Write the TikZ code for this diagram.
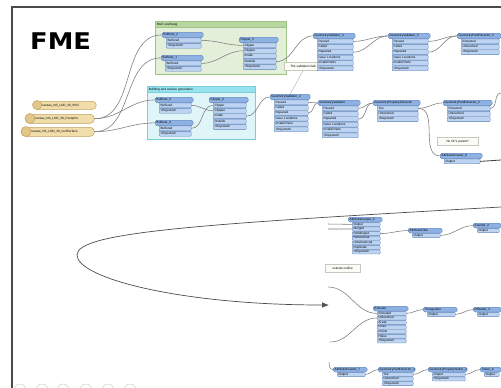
\documentclass[tikz,border=0pt]{standalone}
\usepackage{fontspec}
\setmainfont{Liberation Sans}
\newfontfamily\titlefont{DejaVu Sans}
\usetikzlibrary{arrows.meta}
\definecolor{hdrblue}{HTML}{8DB1E2}
\definecolor{portblue}{HTML}{BCD3F1}
\definecolor{bordblue}{HTML}{5B7FB4}
\definecolor{tanfill}{HTML}{F0DDA9}
\definecolor{tanbord}{HTML}{C3A35F}
\definecolor{tanicon}{HTML}{E2C78A}
\definecolor{gfill}{HTML}{E3EFD9}
\definecolor{gbar}{HTML}{B7D6A0}
\definecolor{gbord}{HTML}{9CC487}
\definecolor{cfill}{HTML}{E0F5F8}
\definecolor{cbar}{HTML}{96E2EE}
\definecolor{cbord}{HTML}{7ACDDA}
\definecolor{wiregray}{HTML}{7A7A7A}
\definecolor{framegray}{HTML}{4A4A4A}
\definecolor{cmtfill}{HTML}{FCFCF6}
\definecolor{cmtbord}{HTML}{C8C8BE}
\def\xfp{5.4}
\def\xfh{5.8}
\newcommand{\xform}[6]{%
  \pgfmathsetmacro{\xftw}{#4-3}%
  \pgfmathsetmacro{\xfptw}{#4-9}%
  \pgfmathsetmacro{\xfhh}{\xfh-0.4}%
  \pgfmathsetmacro{\xfph}{\xfp-0.6}%
  \node[hdr, text width=\xftw pt, minimum height=\xfhh pt, anchor=north west] (#1) at (#2,#3) {#5};
  \foreach \xfr [count=\xfi] in {#6} {%
    \node[port, text width=\xfptw pt, minimum height=\xfph pt, anchor=north west] (#1-\xfi) at ({#2+4},{#3+\xfh+(\xfi-1)*\xfp}) {\xfr};
  }%
}
\tikzset{
  tinyfont/.style={font=\fontsize{3.1}{3.4}\selectfont},
  hdr/.style={tinyfont, draw=bordblue, fill=hdrblue, line width=0.4pt, rounded corners=1.6pt, inner xsep=1.5pt, inner ysep=0.3pt, text height=2.2pt, text depth=0.6pt, align=left},
  port/.style={tinyfont, draw=bordblue, fill=portblue, line width=0.35pt, rounded corners=0.8pt, inner xsep=1.5pt, inner ysep=0.2pt, text height=2.2pt, text depth=0.6pt, align=left},
  reader/.style={tinyfont, draw=tanbord, fill=tanfill, line width=0.5pt, rounded corners=4pt, inner xsep=1pt, inner ysep=0pt, align=left, text height=2.2pt, text depth=0.6pt},
  readicon/.style={circle, draw=tanbord, fill=tanicon, line width=0.5pt, inner sep=0pt},
  grpbox/.style={line width=0.5pt, inner sep=0pt},
  grpbar/.style={tinyfont, inner xsep=1.5pt, inner ysep=0pt, align=left, text height=2.2pt, text depth=0.6pt},
  cmt/.style={tinyfont, draw=cmtbord, fill=cmtfill, line width=0.4pt, inner xsep=2pt, inner ysep=0pt, align=left, text height=2.2pt, text depth=0.6pt},
  wire/.style={draw=wiregray, line width=0.55pt},
  loopline/.style={draw=black!70, line width=0.7pt},
  dotc/.style={circle, draw=black!20, line width=0.5pt, minimum size=12pt, inner sep=0pt}
}
\begin{document}
\begin{tikzpicture}[x=1pt,y=-1pt]
\useasboundingbox (0,0) rectangle (501,388);
\fill[white] (0,0) rectangle (501,388);
\draw[framegray, line width=1.3pt] (12,388) -- (12,7) -- (501,7);

\node[font=\titlefont\bfseries\fontsize{23}{23}\selectfont, anchor=west, inner sep=0pt] (fme) at (30,41) {\scalebox{1.12}[1]{FME}};

% bookmarks
\node[grpbox, draw=gbord, fill=gfill, minimum width=131pt, minimum height=53pt, anchor=north west] (roof) at (155,21) {};
\node[grpbar, fill=gbar, draw=gbord, line width=0.5pt, text width=128pt, minimum height=6pt, anchor=north west] (rooft) at (155,21) {Roof overhang};
\node[grpbox, draw=cbord, fill=cfill, minimum width=108pt, minimum height=53pt, anchor=north west] (bld) at (147,86) {};
\node[grpbar, fill=cbar, draw=cbord, line width=0.5pt, text width=105pt, minimum height=6pt, anchor=north west] (bldt) at (147,86) {Building and surface generation};

% readers
\node[reader, text width=61pt, minimum height=8pt, anchor=north west] (r1) at (33,101) {\hspace*{7pt}Kansas\_NS\_LOD\_30\_BYG};
\node[readicon, minimum size=9pt] (r1i) at (37,105) {};
\node[reader, text width=67pt, minimum height=9pt, anchor=north west] (r2) at (25,114) {\hspace*{8pt}Kansas\_NS\_LOD\_30\_Footprint};
\node[readicon, minimum size=10pt] (r2i) at (30,118.5) {};
\node[reader, text width=71pt, minimum height=9pt, anchor=north west] (r3) at (21,127) {\hspace*{8pt}Kansas\_NS\_LOD\_30\_roofSurface};
\node[readicon, minimum size=10pt] (r3i) at (26,131.5) {};

% comments
\node[cmt, minimum width=38pt, minimum height=8pt, anchor=north west] (cmt1) at (284,62) {The validation fails};
\node[cmt, minimum width=41pt, minimum height=8pt, anchor=north west] (cmt2) at (437,137) {No GPL parent?};
\node[cmt, minimum width=35pt, minimum height=8pt, anchor=north west] (cmt3) at (325,264) {extrude outline};

% top transformers
\xform{buf2}{162}{32}{41}{Bufferer\_2}{Buffered,<Rejected>}
\xform{buf1}{161}{55}{42}{Bufferer\_1}{Buffered,<Rejected>}
\xform{clip3}{239}{37}{39}{Clipper\_3}{Clipper,Clippee,Inside,Outside,<Rejected>}
\xform{gv4}{313}{33}{42}{GeometryValidator\_4}{Passed,Failed,Repaired,Issue Locations,Invalid Parts,<Rejected>}
\xform{gv3}{388}{33}{42}{GeometryValidator\_3}{Passed,Failed,Repaired,Issue Locations,Invalid Parts,<Rejected>}
\xform{gpe3}{457}{33}{44}{GeometryPartExtractor\_3}{Extracted,Untouched,<Rejected>}

\xform{buf3}{155}{97}{38}{Bufferer\_3}{Buffered,<Rejected>}
\xform{buf4}{155}{120}{38}{Bufferer\_4}{Buffered,<Rejected>}
\xform{clip4}{209}{97}{39}{Clipper\_4}{Clipper,Clippee,Inside,Outside,<Rejected>}
\xform{gv2}{270}{94}{40}{GeometryValidator\_2}{Passed,Failed,Repaired,Issue Locations,Invalid Parts,<Rejected>}
\xform{gv1}{318}{100}{42}{GeometryValidator}{Passed,Failed,Repaired,Issue Locations,Invalid Parts,<Rejected>}
\xform{gpx}{373}{100}{47}{GeometryPropertyExtractor}{Yes,Untouched,<Rejected>}
\xform{gpe2}{443}{100}{49}{GeometryPartExtractor\_2}{Extracted,Untouched,<Rejected>}
\xform{ac8}{440}{153}{42}{AttributeCreator\_8}{Output}

% middle transformers
\def\xfp{4.6}
\def\xfh{5.2}
\xform{ak}{348}{217}{34}{AttributeKeeper\_2}{Output,Merged,NotMerged,Referencee,Unreferenced,Duplicate,<Rejected>}
\xform{af}{408}{228}{34}{AttributeFilter}{Output}
\xform{ar}{473}{223}{28}{Counter\_2}{Output}
\xform{ex}{373}{306}{35}{Extruder}{Extruded,Untouched,Areas,Lines,Points,Holes,<Rejected>}
\xform{tr}{423}{307}{34}{Triangulator}{Output}
\xform{ap}{473}{307}{28}{Offsetter\_3}{Output}
\xform{b1}{333}{367}{34}{AttributeCreator\_7}{Output}
\xform{b2}{378}{367}{37}{GeometryPartExtractor\_4}{Yes,Untouched,<Rejected>}
\xform{b3}{428}{367}{39}{GeometryPropertySetter\_2}{Output,<Rejected>}
\xform{b4}{480}{367}{21}{Tester\_9}{Output}

% free ends
\coordinate (edge1) at (501,93);
\coordinate (edge2) at (501,160);
\coordinate (akin1) at (328,224);
\coordinate (akin2) at (328,229);
\coordinate (exin1) at (328,287);
\coordinate (exin2) at (330,342);
\coordinate (bin) at (329,362);
\coordinate (loopstart) at (501,207);
\coordinate (loopleft) at (77,255);
\coordinate (looptip) at (329,305);

% connectors
\draw[wire] (r2.east) to[out=0,in=180] (buf2.west);
\draw[wire] (r3.east) to[out=0,in=180] (buf1.west);
\draw[wire] (r2.east) to[out=0,in=180] (buf3.west);
\draw[wire] (r3.east) to[out=0,in=180] (buf4.west);
\draw[wire] (buf2-1.east) to[out=0,in=180] (clip3-1.west);
\draw[wire] (buf1-1.east) to[out=0,in=180] (clip3-2.west);
\draw[wire] (clip3-4.east) to[out=0,in=180] (gv4.west);
\draw[wire] (gv4-1.east) to[out=0,in=180] (gv3.west);
\draw[wire] (gv4-3.east) to[out=0,in=180] (gv3.west);
\draw[wire] (gv3-1.east) to[out=0,in=180] (gpe3.west);
\draw[wire] (gv3-3.east) to[out=0,in=180] (gpe3.west);
\draw[draw=black!30, line width=0.4pt] (cmt1.south) -- (gv2.north);
\draw[wire] (buf3-1.east) to[out=0,in=180] (clip4-2.west);
\draw[wire] (buf4-1.east) to[out=0,in=180] (clip4-1.west);
\draw[wire] (clip4-3.east) to[out=0,in=180] (gv2.west);
\draw[wire] (gv2-1.east) to[out=0,in=180] (gv1.west);
\draw[wire] (gv2-3.east) to[out=0,in=180] (gv1.west);
\draw[wire] (gv1-1.east) to[out=0,in=180] (gpx.west);
\draw[wire] (gv1-3.east) to[out=0,in=180] (gpx.west);
\draw[wire] (gpx-1.east) to[out=0,in=180] (gpe2.west);
\draw[wire] (gpx-1.east) to[out=0,in=180] (ac8.west);
\draw[wire] (gpe2-1.east) to[out=0,in=180] (edge1);
\draw[wire, line width=0.8pt, draw=black!75] (ac8-1.east) -- (edge2);
\draw[wire] (akin1) -- (ak-1.west);
\draw[wire] (akin2) -- (ak-2.west);
\draw[wire] (ak-3.east) to[out=0,in=180] (af.west);
\draw[wire] (af-1.east) to[out=0,in=180] (ar.west);
\draw[wire] (exin1) to[out=0,in=180] (ex-1.west);
\draw[wire] (exin2) to[out=0,in=180] (ex-2.west);
\draw[wire] (ex-1.east) to[out=0,in=180] (tr.west);
\draw[wire] (tr-1.east) to[out=0,in=180] (ap.west);
\draw[wire] (bin) to[out=-90,in=180] (b1.west);
\draw[wire] (b1-1.east) to[out=0,in=180] (b2.west);
\draw[wire] (b2-1.east) to[out=0,in=180] (b3.west);
\draw[wire] (b3-1.east) to[out=0,in=180] (b4.west);

% big loop arrow
\draw[loopline, -{Latex[length=7pt,width=5.5pt]}] (loopstart) .. controls (200,224) and (77,232) .. (loopleft) .. controls (77,278) and (180,305) .. (looptip);

% decorative circles at bottom left
\foreach \cx [count=\ci] in {20,42,63,86,108,130} {
  \node[dotc] (dot\ci) at (\cx,390) {};
}
\end{tikzpicture}
\end{document}
